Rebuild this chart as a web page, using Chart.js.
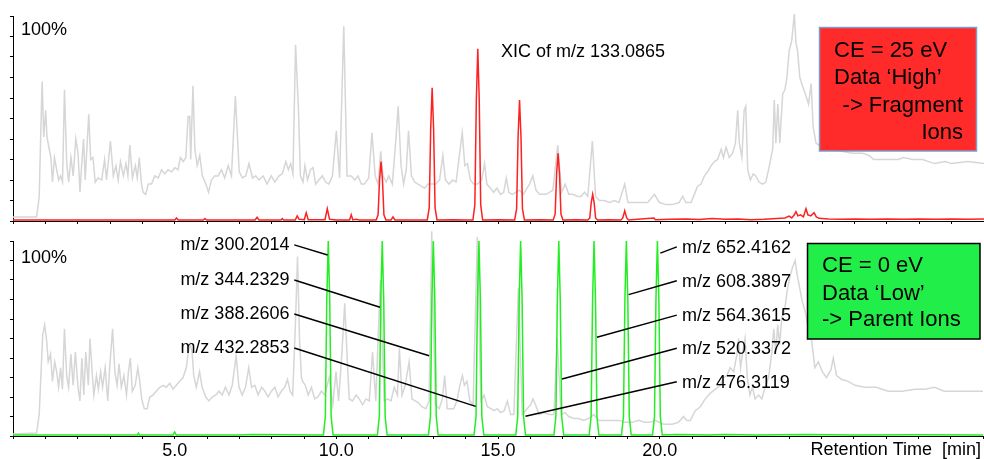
<!DOCTYPE html>
<html>
<head>
<meta charset="utf-8">
<script src="https://cdn.jsdelivr.net/npm/chart.js@4.4.0/dist/chart.umd.min.js"></script>
<style>
  html, body { margin: 0; padding: 0; background: #fff; }
  #wrap { position: relative; width: 984px; height: 459px; overflow: hidden; }
  #top { position: absolute; left: 0; top: 0; }
  #bottom { position: absolute; left: 0; top: 228px; }
</style>
</head>
<body>
<div id="wrap">
  <canvas id="top" width="984" height="228"></canvas>
  <canvas id="bottom" width="984" height="231"></canvas>
</div>
<script>
// retention time [min], relative intensity [%]
const ticHigh = [
  [0.0,2],[0.73,2],[0.81,12],[0.85,38],[0.90,68],[0.95,41],[1.01,54],[1.05,41],[1.12,35],[1.17,31],[1.22,19],[1.28,31],
  [1.35,25],[1.41,20],[1.47,22],[1.53,19],[1.59,64],[1.66,28],[1.72,19],[1.79,31],[1.86,22],[1.94,40],[2.01,33],[2.07,14],
  [2.12,27],[2.18,40],[2.23,20],[2.34,52],[2.40,30],[2.47,31],[2.54,19],[2.63,21],[2.74,20],[2.83,30],[2.89,20],[3.01,39],
  [3.10,22],[3.18,27],[3.25,20],[3.32,29],[3.41,22],[3.49,28],[3.55,22],[3.61,37],[3.69,21],[3.78,27],[3.84,21],[3.90,31],
  [3.97,18],[4.02,14],[4.10,13],[4.18,18],[4.28,18],[4.38,22],[4.49,21],[4.59,25],[4.69,23],[4.79,25],[4.90,24],[5.00,26],
  [5.10,25],[5.17,31],[5.26,29],[5.34,31],[5.41,51],[5.46,51],[5.49,30],[5.56,66],[5.62,35],[5.69,27],[5.77,32],[5.85,22],
  [5.96,18],[6.04,14],[6.13,20],[6.23,22],[6.34,22],[6.44,25],[6.54,21],[6.65,27],[6.75,22],[6.87,61],[6.99,24],[7.09,21],
  [7.19,22],[7.29,28],[7.40,21],[7.50,22],[7.60,20],[7.73,22],[7.85,18],[7.98,22],[8.09,19],[8.22,22],[8.32,23],[8.43,29],
  [8.51,25],[8.58,28],[8.65,23],[8.73,86],[8.82,54],[8.88,22],[8.96,19],[9.02,27],[9.10,20],[9.19,25],[9.27,26],[9.35,18],
  [9.45,20],[9.56,22],[9.66,19],[9.76,18],[9.87,22],[9.99,44],[10.09,21],[10.22,95],[10.32,22],[10.45,22],[10.56,20],
  [10.66,22],[10.76,18],[10.86,18],[10.99,21],[11.09,43],[11.19,22],[11.28,18],[11.36,34],[11.43,22],[11.53,19],[11.61,22],
  [11.72,18],[11.82,38],[11.90,56],[11.99,27],[12.07,18],[12.15,25],[12.22,44],[12.31,22],[12.41,19],[12.51,18],[12.61,17],
  [12.72,16],[12.82,18],[12.92,18],[13.06,18],[13.18,20],[13.28,32],[13.36,20],[13.47,18],[13.59,20],[13.69,19],[13.80,33],
  [13.88,43],[13.96,27],[14.04,28],[14.13,20],[14.23,18],[14.35,18],[14.48,20],[14.57,28],[14.64,18],[14.75,16],[14.85,14],
  [14.95,16],[15.06,13],[15.16,14],[15.24,21],[15.32,14],[15.42,13],[15.53,14],[15.65,15],[15.77,13],[15.88,16],[15.96,18],
  [16.06,22],[16.16,15],[16.27,13],[16.37,13],[16.47,13],[16.57,14],[16.68,15],[16.83,37],[16.95,14],[17.06,18],[17.17,13],
  [17.29,13],[17.45,12],[17.55,12],[17.66,14],[17.76,12],[17.90,39],[18.00,12],[18.12,10],[18.27,10],[18.43,9],[18.58,10],
  [18.72,9],[18.90,18],[19.00,9],[19.15,9],[19.30,9],[19.46,9],[19.61,9],[19.82,13],[19.97,9],[20.17,8],[20.37,8],[20.58,9],
  [20.69,12],[20.79,9],[20.95,9],[21.05,13],[21.15,17],[21.26,18],[21.36,22],[21.46,24],[21.57,27],[21.67,29],[21.77,30],
  [21.88,35],[21.95,31],[22.03,36],[22.13,31],[22.23,33],[22.32,38],[22.39,54],[22.44,38],[22.52,31],[22.59,54],[22.64,56],
  [22.70,25],[22.78,20],[22.87,23],[22.95,22],[23.05,19],[23.16,18],[23.26,19],[23.37,27],[23.47,35],[23.52,59],[23.57,38],
  [23.63,57],[23.69,38],[23.78,62],[23.85,64],[23.91,70],[23.98,83],[24.06,88],[24.14,101],[24.19,87],[24.24,83],[24.31,70],
  [24.39,66],[24.48,62],[24.58,57],[24.66,67],[24.72,46],[24.81,38],[25.0,36],[25.3,35],[25.6,34],[25.94,33],[26.25,33],
  [26.45,32],[26.59,30],[26.95,30],[27.35,30],[27.51,31],[27.8,30],[28.1,30],[28.47,28],[28.8,29],[29.0,28],[29.5,29],[30,28]
];

const xicHigh = [
  [0,0.5],[5.0,0.5],[5.05,1.5],[5.1,0.5],[5.88,0.5],[5.93,1.2],[5.98,0.5],[7.48,0.5],[7.54,1.8],[7.6,0.5],[8.28,0.5],
  [8.32,1.2],[8.36,0.5],[8.72,0.5],[8.78,2.5],[8.84,0.8],[9.0,0.6],[9.06,4],[9.12,0.6],[9.64,0.6],[9.71,6],[9.78,0.8],
  [10.0,0.5],[10.4,0.5],[10.45,3],[10.5,0.5],[10.6,0.8],[10.7,0.5],
  [11.22,0.5],[11.28,3],[11.325,20],[11.37,29],[11.415,20],[11.46,3],[11.52,0.5],[11.68,0.5],[11.74,2],[11.80,0.5],
  [12.80,0.5],[12.86,6.5],[12.905,45],[12.95,65],[12.995,45],[13.04,6.5],[13.10,0.5],[13.6,0.6],[14.0,0.5],
  [14.21,0.5],[14.27,8],[14.315,59],[14.36,84],[14.405,59],[14.45,8],[14.51,0.5],[15.0,0.6],
  [15.50,0.5],[15.56,6],[15.605,41],[15.65,59],[15.695,41],[15.74,6],[15.80,0.5],[16.3,0.6],
  [16.69,0.5],[16.75,3.3],[16.795,23],[16.84,33],[16.885,23],[16.93,3.3],[16.99,0.5],[17.4,0.6],
  [17.76,0.5],[17.82,1.5],[17.865,9],[17.91,13],[17.955,9],[18.00,1.5],[18.06,0.5],[18.4,0.6],
  [18.78,0.5],[18.84,1.5],[18.90,5],[18.96,1.5],[19.02,0.5],[19.3,0.8],[19.8,1.5],[19.85,0.6],[20.3,0.8],[20.8,1],
  [21.2,0.7],[21.6,1.2],[22.0,0.8],[22.4,1],[22.8,0.6],[23.2,0.8],[23.6,1.2],[23.85,1.5],[23.98,2.4],[24.06,1.5],
  [24.14,3],[24.19,4.5],[24.25,2.5],[24.33,3],[24.42,2],[24.50,6],[24.56,3],[24.65,2.5],[24.75,4],[24.82,2],[24.9,1.3],
  [25.2,1],[25.6,0.8],[26.0,1],[26.5,0.8],[27.0,1],[27.5,0.8],[28.0,1],[28.5,0.8],[29.0,1],[29.5,0.8],[30,1]
];

const ticLow = [
  [0.0,1],[0.73,1.5],[0.81,11],[0.85,26],[0.92,52],[0.98,57],[1.04,49],[1.09,38],[1.16,42],[1.22,28],[1.29,38],[1.35,33],
  [1.41,25],[1.47,35],[1.53,24],[1.59,55],[1.66,31],[1.72,25],[1.79,42],[1.86,26],[1.93,43],[2.01,25],[2.07,18],[2.13,40],
  [2.19,21],[2.25,43],[2.33,26],[2.38,50],[2.44,35],[2.50,21],[2.58,31],[2.64,24],[2.71,33],[2.77,25],[2.85,35],[2.93,18],
  [2.99,35],[3.08,55],[3.15,33],[3.22,26],[3.28,37],[3.35,25],[3.43,31],[3.51,21],[3.57,33],[3.63,40],[3.69,23],[3.78,26],
  [3.86,35],[3.92,28],[3.98,19],[4.06,14],[4.15,14],[4.23,20],[4.33,21],[4.43,23],[4.54,25],[4.64,26],[4.74,25],[4.85,27],
  [4.95,24],[5.05,26],[5.15,28],[5.26,30],[5.36,35],[5.42,43],[5.48,47],[5.54,43],[5.59,31],[5.67,25],[5.77,33],[5.85,25],
  [5.96,20],[6.06,18],[6.16,20],[6.27,21],[6.37,23],[6.47,21],[6.57,25],[6.68,21],[6.78,26],[6.90,41],[6.99,25],[7.09,21],
  [7.19,25],[7.29,35],[7.38,25],[7.48,26],[7.58,21],[7.69,25],[7.79,23],[7.89,20],[7.99,23],[8.10,25],[8.20,20],[8.30,23],
  [8.40,25],[8.49,29],[8.57,23],[8.65,21],[8.74,60],[8.80,92],[8.86,50],[8.92,30],[8.96,28],[9.04,26],[9.13,21],[9.23,25],
  [9.33,19],[9.43,20],[9.54,23],[9.64,21],[9.78,30],[9.89,16],[9.99,33],[10.07,18],[10.17,42],[10.26,68],[10.34,38],
  [10.40,19],[10.50,18],[10.61,21],[10.71,19],[10.81,16],[10.92,19],[11.02,18],[11.12,43],[11.22,18],[11.36,80],[11.48,18],
  [11.58,19],[11.69,18],[11.79,25],[11.89,21],[11.95,45],[12.03,21],[12.13,26],[12.25,38],[12.34,19],[12.44,18],[12.54,17],
  [12.64,15],[12.77,14],[12.87,18],[12.95,105],[13.06,16],[13.18,14],[13.28,19],[13.35,31],[13.43,14],[13.53,14],[13.63,14],
  [13.73,18],[13.82,26],[13.90,31],[13.96,26],[14.04,28],[14.13,18],[14.23,16],[14.36,102],[14.47,18],[14.57,21],[14.67,15],
  [14.78,14],[14.88,13],[14.98,14],[15.08,12],[15.19,13],[15.29,18],[15.39,11],[15.49,11],[15.63,76],[15.75,11],[15.90,14],
  [16.01,16],[16.08,19],[16.16,16],[16.27,11],[16.42,12],[16.58,11],[16.73,11],[16.83,50],[16.95,11],[17.07,12],[17.19,10],
  [17.34,9],[17.50,9],[17.65,8],[17.81,9],[17.96,11],[18.12,8],[18.32,8],[18.53,8],[18.73,8],[18.94,7],[19.15,7],[19.35,8],
  [19.55,7],[19.71,7],[19.86,8],[20.12,6],[20.38,6],[20.58,7],[20.74,10],[20.84,8],[20.95,8],[21.10,13],[21.26,15],
  [21.41,19],[21.57,22],[21.72,24],[21.88,26],[21.98,30],[22.08,31],[22.18,35],[22.29,33],[22.39,42],[22.44,50],[22.50,35],
  [22.57,43],[22.64,50],[22.71,30],[22.79,21],[22.87,25],[22.95,19],[23.06,21],[23.16,19],[23.26,25],[23.37,30],[23.47,43],
  [23.53,55],[23.59,42],[23.65,57],[23.71,47],[23.78,61],[23.86,64],[23.94,74],[24.02,81],[24.10,86],[24.19,90],[24.25,83],
  [24.33,76],[24.41,69],[24.50,64],[24.60,55],[24.70,49],[24.80,35],[24.91,38],[25.03,33],[25.16,30],[25.30,34],[25.37,40],
  [25.47,31],[25.63,29],[25.83,28],[26.04,26],[26.35,25],[26.7,25],[27.07,23],[27.5,23],[27.89,24],[28.2,24],[28.5,25],
  [28.8,23],[29.12,23],[29.5,23],[30,23]
];

const xicLow = [
  [0,0.5],[3.85,0.5],[3.88,1.5],[3.91,0.5],[4.95,0.5],[5.0,2],[5.05,0.5],[7.0,0.5],[7.4,0.8],[9.3,0.5],
  [9.60,0.5],[9.66,10],[9.705,70],[9.75,100],[9.795,70],[9.84,10],[9.90,0.5],
  [11.27,0.5],[11.33,10],[11.375,70],[11.42,100],[11.465,70],[11.51,10],[11.57,0.5],
  [12.85,0.5],[12.91,10],[12.955,70],[13.00,100],[13.045,70],[13.09,10],[13.15,0.5],
  [14.26,0.5],[14.32,10],[14.365,70],[14.41,100],[14.455,70],[14.50,10],[14.56,0.5],
  [15.55,0.5],[15.61,10],[15.655,70],[15.70,100],[15.745,70],[15.79,10],[15.85,0.5],
  [16.73,0.5],[16.79,10],[16.835,70],[16.88,100],[16.925,70],[16.97,10],[17.03,0.5],
  [17.82,0.5],[17.88,10],[17.925,70],[17.97,100],[18.015,70],[18.06,10],[18.12,0.5],
  [18.82,0.5],[18.88,10],[18.925,70],[18.97,100],[19.015,70],[19.06,10],[19.12,0.5],
  [19.78,0.5],[19.84,10],[19.885,70],[19.93,100],[19.975,70],[20.02,10],[20.08,0.5],
  [20.5,0.8],[21.5,0.5],[22.0,0.8],[23,0.5],[24.5,0.8],[26,0.5],[28,0.7],[30,0.5]
];

// m/z labels and the peaks their leader lines point to
const leftLabels = ['m/z 300.2014', 'm/z 344.2329', 'm/z 388.2606', 'm/z 432.2853'];
const leftLabelLevel = [98, 80, 62.6, 45.1];
const leftTargetTime = [9.73, 11.35, 12.87, 14.31];
const leftTargetLevel = [92.8, 66, 41.2, 15.2];
const rightLabels = ['m/z 652.4162', 'm/z 608.3897', 'm/z 564.3615', 'm/z 520.3372', 'm/z 476.3119'];
const rightLabelLevel = [97, 79.6, 62, 45, 27.8];
const rightTargetTime = [20.02, 19.04, 18.06, 16.98, 15.85];
const rightTargetLevel = [93.8, 72.5, 50.6, 29.2, 10.1];

const xTicks = [5, 10, 15, 20];
const FONT = "'Liberation Sans', Arial, Helvetica, sans-serif";

function pts(arr) { return arr.map(p => ({ x: p[0], y: p[1] })); }

function scales(showLabels, xHeight) {
  return {
    x: {
      type: 'linear', min: 0, max: 30,
      afterFit: s => { s.height = xHeight; },
      grid: { display: true, drawOnChartArea: false, color: '#000', tickLength: 3 },
      border: { display: true, color: '#000', width: 1 },
      ticks: {
        display: showLabels, stepSize: 1, autoSkip: false, maxRotation: 0, padding: 1,
        color: '#000', font: { family: FONT, size: 18 },
        callback: v => xTicks.includes(v) ? v.toFixed(1) : ''
      }
    },
    y: {
      min: 0, max: 100,
      afterFit: s => { s.width = 13; },
      grid: { display: true, drawOnChartArea: false, color: '#000', tickLength: 3 },
      border: { display: true, color: '#000', width: 1 },
      ticks: { display: false, stepSize: 10 }
    }
  };
}

function line(data, color, width, order) {
  return { data: pts(data), borderColor: color, borderWidth: width, pointRadius: 0,
           tension: 0, clip: false, order: order, fill: false };
}

function text(ctx, s, x, y, size, align) {
  ctx.font = size + 'px ' + FONT;
  ctx.textAlign = align || 'left';
  ctx.fillStyle = '#000';
  ctx.fillText(s, x, y);
}

const topNotes = {
  id: 'topNotes',
  afterDraw(chart) {
    const ctx = chart.ctx;
    ctx.save();
    ctx.textBaseline = 'alphabetic';
    text(ctx, '100%', 21, 35, 18);
    text(ctx, 'XIC of m/z 133.0865', 501, 57, 18);
    ctx.fillStyle = '#ff2b2b';
    ctx.fillRect(819.5, 27.5, 157, 123.5);
    ctx.strokeStyle = '#7f9cc8';
    ctx.lineWidth = 1.5;
    ctx.strokeRect(819.5, 27.5, 157, 123.5);
    text(ctx, 'CE = 25 eV', 834, 57, 22);
    text(ctx, 'Data \u2018High\u2019', 834, 84, 22);
    text(ctx, '-> Fragment', 963, 111.5, 22, 'right');
    text(ctx, 'Ions', 963, 138.5, 22, 'right');
    ctx.restore();
  }
};

const bottomNotes = {
  id: 'bottomNotes',
  afterDraw(chart) {
    const ctx = chart.ctx;
    const xs = chart.scales.x, ys = chart.scales.y;
    ctx.save();
    ctx.textBaseline = 'alphabetic';
    text(ctx, '100%', 21, 35, 18);
    text(ctx, 'Retention Time  [min]', 981, 227, 18, 'right');

    ctx.strokeStyle = '#000';
    ctx.lineWidth = 1.5;
    ctx.textBaseline = 'middle';
    leftLabels.forEach((s, i) => {
      const y0 = ys.getPixelForValue(leftLabelLevel[i]);
      ctx.beginPath();
      ctx.moveTo(xs.getPixelForValue(8.70), y0);
      ctx.lineTo(xs.getPixelForValue(leftTargetTime[i]), ys.getPixelForValue(leftTargetLevel[i]));
      ctx.stroke();
      text(ctx, s, xs.getPixelForValue(8.55), y0, 18, 'right');
    });
    rightLabels.forEach((s, i) => {
      const y0 = ys.getPixelForValue(rightLabelLevel[i]);
      ctx.beginPath();
      ctx.moveTo(xs.getPixelForValue(rightTargetTime[i]), ys.getPixelForValue(rightTargetLevel[i]));
      ctx.lineTo(xs.getPixelForValue(20.53), y0);
      ctx.stroke();
      text(ctx, s, xs.getPixelForValue(20.69), y0 + 1, 18, 'left');
    });

    ctx.textBaseline = 'alphabetic';
    ctx.fillStyle = '#22ee4a';
    ctx.fillRect(807.5, 15.5, 172.5, 95.5);
    ctx.strokeStyle = '#000';
    ctx.lineWidth = 1.5;
    ctx.strokeRect(807.5, 15.5, 172.5, 95.5);
    text(ctx, 'CE = 0 eV', 822, 44, 22);
    text(ctx, 'Data \u2018Low\u2019', 822, 71.5, 22);
    text(ctx, '-> Parent Ions', 822, 98, 22);
    ctx.restore();
  }
};

const common = {
  responsive: false,
  animation: false,
  devicePixelRatio: 1,
  plugins: { legend: { display: false }, tooltip: { enabled: false } }
};

new Chart(document.getElementById('top'), {
  type: 'line',
  data: { datasets: [ line(xicHigh, '#ff2020', 1.5, 0), line(ticHigh, '#d6d6d6', 1.5, 1) ] },
  options: Object.assign({}, common, {
    layout: { padding: { top: 16, left: 0, right: 0, bottom: 0 } },
    scales: scales(false, 7)
  }),
  plugins: [topNotes]
});

new Chart(document.getElementById('bottom'), {
  type: 'line',
  data: { datasets: [ line(xicLow, '#22ee22', 1.5, 0), line(ticLow, '#d6d6d6', 1.5, 1) ] },
  options: Object.assign({}, common, {
    layout: { padding: { top: 13, left: 0, right: 0, bottom: 0 } },
    scales: scales(true, 23)
  }),
  plugins: [bottomNotes]
});
</script>
</body>
</html>
